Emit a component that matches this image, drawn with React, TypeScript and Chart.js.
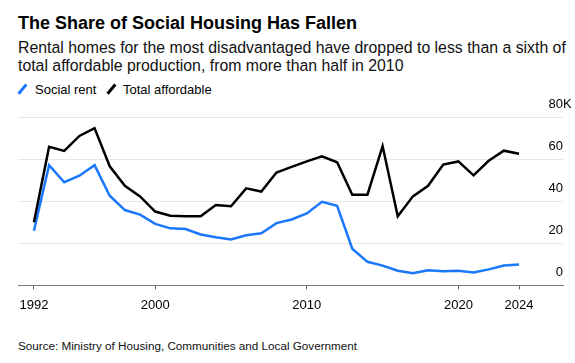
import React, { useEffect, useRef } from "react";
import { Chart, registerables } from "chart.js";

Chart.register(...registerables);

const years = [
  1992, 1993, 1994, 1995, 1996, 1997, 1998, 1999, 2000, 2001, 2002, 2003, 2004,
  2005, 2006, 2007, 2008, 2009, 2010, 2011, 2012, 2013, 2014, 2015, 2016, 2017,
  2018, 2019, 2020, 2021, 2022, 2023, 2024,
];
const totalAffordable = [
  30.0, 65.8, 63.9, 71.0, 74.7, 56.6, 47.3, 42.3, 35.1, 33.1, 32.9, 32.9, 38.2,
  37.6, 46.1, 44.6, 53.6, 56.3, 58.9, 61.3, 58.5, 43.1, 43.1, 66.2, 32.8, 42.3,
  47.3, 57.4, 58.9, 52.3, 59.2, 64.0, 62.5,
];
const socialRent = [
  26.0, 57.1, 49.0, 52.1, 57.1, 42.6, 35.8, 33.6, 29.2, 27.1, 26.8, 24.2, 22.9,
  21.8, 23.8, 24.8, 29.6, 31.3, 34.2, 39.7, 37.8, 17.4, 11.2, 9.4, 7.0, 5.8,
  7.2, 6.7, 7.0, 6.1, 7.6, 9.4, 9.9,
];
const xTicks = [1992, 2000, 2010, 2020, 2024];
const yTicks = [0, 20, 40, 60, 80];

const FONT = "'Liberation Sans', Arial, sans-serif";
const BLUE = "#1a78ff";
const BLACK = "#000000";

export default function App() {
  const ref = useRef<HTMLCanvasElement | null>(null);

  useEffect(() => {
    if (!ref.current) return;
    const kPlugin = {
      id: "kSuffix",
      afterDraw(chart: any) {
        const s = chart.scales.y;
        const ctx = chart.ctx;
        ctx.save();
        ctx.font = `13px ${FONT}`;
        ctx.fillStyle = "#000";
        ctx.textAlign = "left";
        ctx.textBaseline = "middle";
        ctx.fillText("K", s.left, s.getPixelForValue(80) - 12.5);
        ctx.restore();
      },
    };
    const chart = new Chart(ref.current, {
      type: "line",
      data: {
        datasets: [
          {
            label: "Total affordable",
            data: years.map((y, i) => ({ x: y, y: totalAffordable[i] })),
            borderColor: BLACK,
            borderWidth: 2.5,
            pointRadius: 0,
            tension: 0,
          },
          {
            label: "Social rent",
            data: years.map((y, i) => ({ x: y, y: socialRent[i] })),
            borderColor: BLUE,
            borderWidth: 2.5,
            pointRadius: 0,
            tension: 0,
          },
        ],
      },
      options: {
        animation: false,
        responsive: false,
        maintainAspectRatio: false,
        layout: { padding: { top: 22, right: 12, bottom: 4, left: 18 } },
        plugins: { legend: { display: false }, tooltip: { enabled: false } },
        scales: {
          x: {
            type: "linear",
            min: 1990.95,
            max: 2026.9,
            afterBuildTicks: (scale: any) => {
              scale.ticks = xTicks.map((v) => ({ value: v }));
            },
            grid: {
              display: true,
              drawOnChartArea: false,
              drawTicks: true,
              tickLength: 4,
              color: "#666",
            },
            border: { display: true, color: "#777", width: 1 },
            ticks: {
              padding: 8,
              color: "#000",
              font: { family: FONT, size: 13 },
              maxRotation: 0,
              autoSkip: false,
              callback: (v: any) => String(v),
            },
          },
          y: {
            position: "right",
            min: 0,
            max: 80,
            afterBuildTicks: (scale: any) => {
              scale.ticks = yTicks.map((v) => ({ value: v }));
            },
            grid: { color: "#e6e6e6", lineWidth: 1, drawTicks: false },
            border: { display: false },
            ticks: {
              mirror: true,
              padding: 0,
              labelOffset: -12.5,
              color: "#000",
              font: { family: FONT, size: 13 },
              callback: (v: any) => String(v),
            },
          },
        },
      },
      plugins: [kPlugin],
    });
    return () => chart.destroy();
  }, []);

  const slash = (color: string, left: number) => (
    <div
      style={{
        position: "absolute",
        left,
        top: 83,
        width: 2.5,
        height: 12,
        background: color,
        transform: "rotate(40deg)",
      }}
    />
  );

  return (
    <div
      style={{
        position: "absolute",
        left: 0,
        top: 0,
        width: 575,
        height: 363,
        background: "#fff",
        fontFamily: FONT,
        color: "#000",
        overflow: "hidden",
      }}
    >
      <div
        style={{
          position: "absolute",
          left: 18,
          top: 12,
          fontSize: 18,
          lineHeight: "22px",
          fontWeight: 700,
          whiteSpace: "nowrap",
        }}
      >
        The Share of Social Housing Has Fallen
      </div>
      <div
        style={{
          position: "absolute",
          left: 18,
          top: 39,
          fontSize: 15.85,
          lineHeight: "18px",
          whiteSpace: "nowrap",
          color: "#111",
        }}
      >
        Rental homes for the most disadvantaged have dropped to less than a sixth of
        <br />
        total affordable production, from more than half in 2010
      </div>
      {slash(BLUE, 21)}
      <div
        style={{
          position: "absolute",
          left: 35,
          top: 82,
          fontSize: 13,
          lineHeight: "16px",
          whiteSpace: "nowrap",
        }}
      >
        Social rent
      </div>
      {slash(BLACK, 110)}
      <div
        style={{
          position: "absolute",
          left: 123,
          top: 82,
          fontSize: 13,
          lineHeight: "16px",
          whiteSpace: "nowrap",
        }}
      >
        Total affordable
      </div>
      <canvas
        ref={ref}
        width={575}
        height={230}
        style={{ position: "absolute", left: 0, top: 95, width: 575, height: 230 }}
      />
      <div
        style={{
          position: "absolute",
          left: 18,
          top: 339,
          fontSize: 11.7,
          lineHeight: "14px",
          whiteSpace: "nowrap",
          color: "#111",
        }}
      >
        Source: Ministry of Housing, Communities and Local Government
      </div>
    </div>
  );
}
